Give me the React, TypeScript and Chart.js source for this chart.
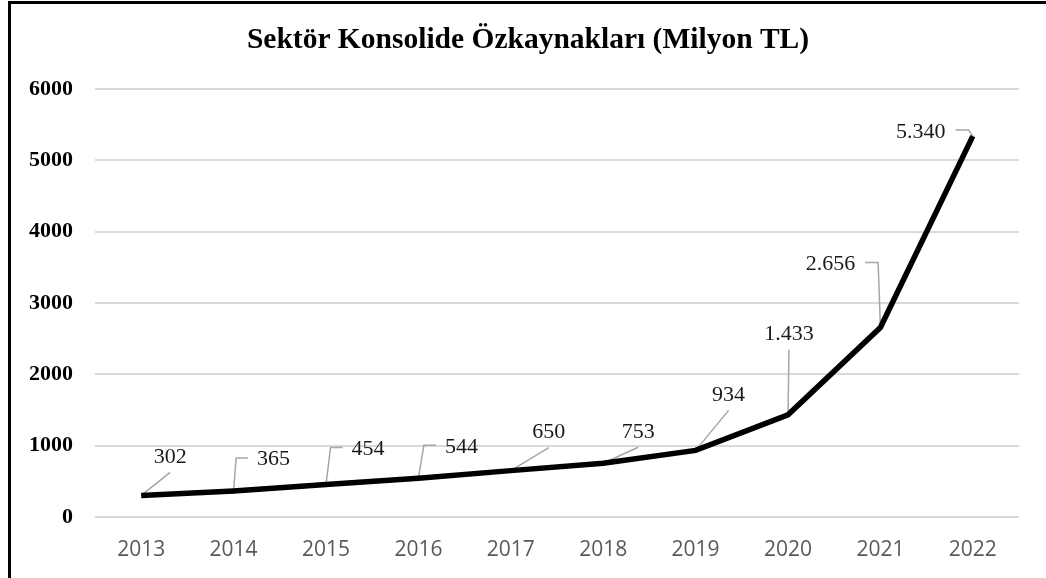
import React, { useEffect, useRef } from 'react';
import { Chart, registerables } from 'chart.js';

Chart.register(...registerables);

// ---- data ----
const years = ['2013', '2014', '2015', '2016', '2017', '2018', '2019', '2020', '2021', '2022'];
const equity = [302, 365, 454, 544, 650, 753, 934, 1433, 2656, 5340];
const valueLabels = ['302', '365', '454', '544', '650', '753', '934', '1.433', '2.656', '5.340'];
const yTickValues = [0, 1000, 2000, 3000, 4000, 5000, 6000];
const chartTitle = 'Sektör Konsolide Özkaynakları (Milyon TL)';

// label placement relative to each point (annotation layout)
const labelPlacement = [
  { dx: 29, dy: -40, leader: 'diag' },
  { dx: 40, dy: -33, leader: 'left' },
  { dx: 42, dy: -37, leader: 'left' },
  { dx: 43, dy: -33, leader: 'left' },
  { dx: 38, dy: -40, leader: 'diag' },
  { dx: 35, dy: -33, leader: 'diag' },
  { dx: 33, dy: -57, leader: 'diag' },
  { dx: 1, dy: -82, leader: 'diag' },
  { dx: -50, dy: -65, leader: 'right' },
  { dx: -52, dy: -6, leader: 'right' },
];

const SERIF = '"Liberation Serif", "Times New Roman", serif';
const LABEL_SIZE = 22;
const LABEL_FONT = `${LABEL_SIZE}px ${SERIF}`;

const titlePlugin = {
  id: 'customTitle',
  afterDraw(chart: any) {
    const ctx = chart.ctx;
    ctx.save();
    ctx.font = `bold 29.5px ${SERIF}`;
    ctx.fillStyle = '#000000';
    ctx.textAlign = 'center';
    ctx.textBaseline = 'alphabetic';
    ctx.fillText(chartTitle, 528, 48);
    ctx.restore();
  },
};

const leaderLabels = {
  id: 'leaderLabels',
  beforeDatasetsDraw(chart: any) {
    const meta = chart.getDatasetMeta(0);
    const ctx = chart.ctx;
    ctx.save();
    ctx.font = LABEL_FONT;
    ctx.strokeStyle = '#a6a6a6';
    ctx.lineWidth = 1.5;
    meta.data.forEach((pt: any, i: number) => {
      const p = labelPlacement[i];
      const cx = pt.x + p.dx;
      const cy = pt.y + p.dy;
      const w = ctx.measureText(valueLabels[i]).width;
      ctx.beginPath();
      if (p.leader === 'diag') {
        ctx.moveTo(cx, cy + 17);
        ctx.lineTo(pt.x, pt.y);
      } else if (p.leader === 'left') {
        const sx = cx - w / 2 - 9;
        ctx.moveTo(sx, cy);
        ctx.lineTo(sx - 12, cy);
        ctx.lineTo(pt.x, pt.y);
      } else {
        const sx = cx + w / 2 + 10;
        ctx.moveTo(sx, cy);
        ctx.lineTo(sx + 13, cy);
        ctx.lineTo(pt.x, pt.y);
      }
      ctx.stroke();
    });
    ctx.restore();
  },
  afterDatasetsDraw(chart: any) {
    const meta = chart.getDatasetMeta(0);
    const ctx = chart.ctx;
    ctx.save();
    ctx.font = LABEL_FONT;
    ctx.fillStyle = '#1a1a1a';
    ctx.textAlign = 'center';
    ctx.textBaseline = 'alphabetic';
    meta.data.forEach((pt: any, i: number) => {
      const p = labelPlacement[i];
      const cx = pt.x + p.dx;
      const cy = pt.y + p.dy;
      ctx.fillText(valueLabels[i], cx, cy + LABEL_SIZE * 0.338);
    });
    ctx.restore();
  },
};

export default function App() {
  const canvasRef = useRef<HTMLCanvasElement | null>(null);

  useEffect(() => {
    if (!canvasRef.current) return;
    const chart = new Chart(canvasRef.current, {
      type: 'line',
      data: {
        labels: years,
        datasets: [
          {
            data: equity,
            borderColor: '#000000',
            borderWidth: 5.5,
            pointRadius: 0,
            pointHoverRadius: 0,
            tension: 0,
            fill: false,
            borderJoinStyle: 'miter',
          },
        ],
      },
      options: {
        responsive: false,
        animation: false,
        devicePixelRatio: 1,
        layout: { padding: { left: 0, right: 27, top: 89, bottom: 0 } },
        plugins: {
          legend: { display: false },
          tooltip: { enabled: false },
          title: { display: false },
        },
        scales: {
          x: {
            type: 'category',
            offset: true,
            grid: { display: false, drawTicks: false },
            border: { display: false },
            ticks: {
              color: '#595959',
              font: { family: '"Open Sans", sans-serif', size: 21 },
              padding: 20,
              maxRotation: 0,
            },
            afterFit(scale: any) {
              scale.height = 61;
            },
          },
          y: {
            min: 0,
            max: 6000,
            afterBuildTicks(scale: any) {
              scale.ticks = yTickValues.map((v) => ({ value: v }));
            },
            grid: { color: '#d9d9d9', lineWidth: 2, drawTicks: false },
            border: { display: false },
            ticks: {
              color: '#000000',
              font: { family: SERIF, size: 22, weight: 'bold' },
              padding: 22,
              callback: (v: any) => String(v),
            },
            afterFit(scale: any) {
              scale.width = 95;
            },
          },
        },
      },
      plugins: [leaderLabels, titlePlugin],
    });
    return () => chart.destroy();
  }, []);

  return (
    <div
      style={{
        position: 'fixed',
        left: 0,
        top: 0,
        width: 1046,
        height: 578,
        overflow: 'hidden',
        background: '#ffffff',
      }}
    >
      <canvas ref={canvasRef} width={1046} height={578} style={{ display: 'block', width: 1046, height: 578 }} />
      <div
        style={{
          position: 'absolute',
          left: 8,
          top: 1,
          width: 1200,
          height: 800,
          borderTop: '3px solid #000',
          borderLeft: '3px solid #000',
          pointerEvents: 'none',
        }}
      />
    </div>
  );
}
